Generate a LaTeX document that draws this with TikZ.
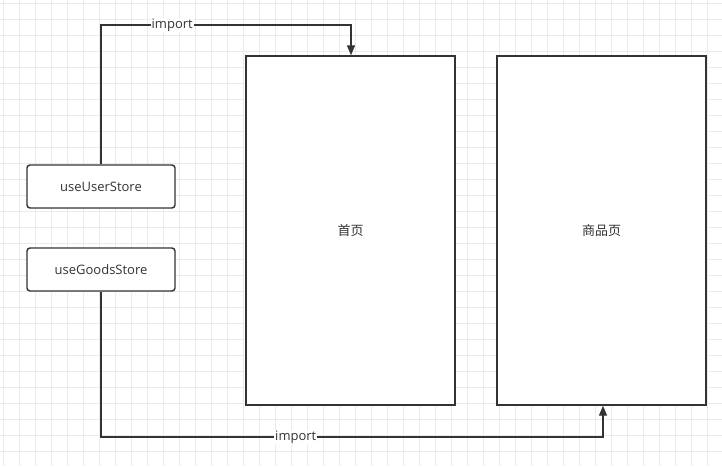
\documentclass[tikz,border=0pt]{standalone}
\usepackage{fontspec}
\setmainfont{Open Sans}
\newfontfamily\cjk{Noto Sans CJK SC}
\usetikzlibrary{arrows.meta}
\definecolor{ink}{HTML}{333333}
\definecolor{gridc}{HTML}{EBEBEB}
\begin{document}
\begin{tikzpicture}[x=1pt,y=-1pt,
  storebox/.style={draw=ink,line width=1.4pt,fill=white,rounded corners=3pt,minimum width=148pt,minimum height=43pt,inner sep=0pt,text=ink,font=\fontsize{13}{15}\selectfont},
  pagebox/.style={draw=ink,line width=1.4pt,fill=white,minimum width=209pt,minimum height=349pt,inner sep=0pt,text=ink,font=\cjk\fontsize{13}{15}\selectfont},
  conn/.style={draw=ink,line width=1.4pt,-{Triangle[width=8pt,length=10pt]}},
  lbl/.style={fill=white,inner sep=1pt,text=ink,font=\fontsize{13}{15}\selectfont}]
\useasboundingbox (0,0) rectangle (722,466);
\fill[white] (0,0) rectangle (722,466);
\foreach \i in {0,...,45} {\draw[gridc,line width=0.8pt] (3+16*\i,0) -- (3+16*\i,466);}
\foreach \j in {0,...,29} {\draw[gridc,line width=0.8pt] (0,3+16*\j) -- (722,3+16*\j);}
\node[pagebox] (home) at (350.5,230.5) {首页};
\node[pagebox] (goods) at (601.5,230.5) {商品页};
\node[storebox] (user) at (101,186.5) {useUserStore};
\node[storebox] (gstore) at (101,269.5) {useGoodsStore};
\coordinate (t1) at (101,25);
\coordinate (t2) at (351,25);
\coordinate (b1) at (101,437);
\coordinate (b2) at (603,437);
\draw[conn] (user.north) -- (t1) -- node[lbl,pos=0.285] {import} (t2) -- (t2 |- home.north);
\draw[conn] (gstore.south) -- (b1) -- node[lbl,pos=0.388] {import} (b2) -- (b2 |- goods.south);
\end{tikzpicture}
\end{document}
